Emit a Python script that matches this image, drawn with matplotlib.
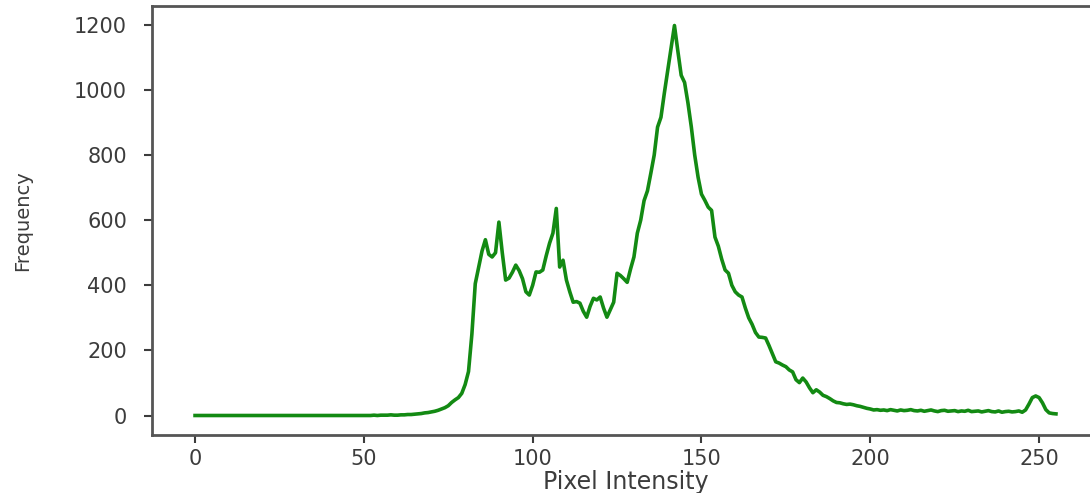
import matplotlib
matplotlib.use("Agg")
from matplotlib import pyplot as plt

# histogram of pixel intensities (0..255)
intensidades = list(range(256))
frecuencias = (
    [0] * 50
    + [0, 0, 0, 1, 0, 1, 1, 1, 2, 1]                                  # 50-59
    + [1, 2, 2, 3, 3, 4, 5, 6, 8, 9]                                  # 60-69
    + [11, 13, 16, 20, 24, 30, 40, 48, 55, 68]                        # 70-79
    + [95, 135, 250, 405, 455, 505, 540, 495, 487, 500]               # 80-89
    + [594, 500, 416, 422, 440, 462, 445, 420, 380, 370]              # 90-99
    + [400, 441, 440, 447, 490, 529, 560, 636, 456, 477]              # 100-109
    + [416, 380, 348, 350, 345, 320, 302, 335, 360, 355]              # 110-119
    + [364, 330, 302, 325, 348, 437, 430, 420, 409, 450]              # 120-129
    + [487, 560, 600, 660, 690, 744, 800, 886, 916, 990]              # 130-139
    + [1060, 1130, 1198, 1120, 1045, 1023, 960, 886, 800, 732]        # 140-149
    + [680, 661, 640, 630, 548, 520, 480, 447, 437, 400]              # 150-159
    + [380, 370, 364, 330, 300, 280, 255, 241, 240, 238]              # 160-169
    + [215, 190, 165, 161, 155, 150, 140, 134, 110, 101]              # 170-179
    + [115, 103, 85, 70, 79, 72, 62, 58, 52, 45]                      # 180-189
    + [40, 39, 36, 34, 35, 33, 30, 28, 25, 22]                        # 190-199
    + [20, 17, 18, 16, 17, 15, 18, 16, 14, 17]                        # 200-209
    + [15, 16, 18, 15, 14, 16, 13, 15, 17, 14]                        # 210-219
    + [12, 15, 16, 13, 14, 15, 12, 14, 13, 16]                        # 220-229
    + [12, 13, 14, 11, 13, 15, 12, 11, 14, 10]                        # 230-239
    + [12, 13, 11, 12, 14, 10, 17, 35, 55, 60]                        # 240-249
    + [55, 39, 18, 8, 6, 5]                                           # 250-255
)
assert len(frecuencias) == 256

gris = "#3c3c3c"
plt.rcParams["font.family"] = "DejaVu Sans"

fig = plt.figure(figsize=(10.9, 4.93), dpi=100)
ax = fig.add_axes([152 / 1090, 58 / 493, 947 / 1090, 429 / 493])

ax.plot(intensidades, frecuencias, color="#138a13", linewidth=2.6)

ax.set_yticks([0, 200, 400, 600, 800, 1000, 1200])
ax.set_xticks([0, 50, 100, 150, 200, 250])

for lado in ax.spines.values():
    lado.set_color("#555555")
    lado.set_linewidth(2)
ax.spines["right"].set_visible(False)

ax.tick_params(axis="both", colors=gris, length=6, width=1.5, labelsize=15)
ax.tick_params(axis="y", pad=12)
ax.tick_params(axis="x", pad=4)

ax.set_xlabel("Pixel Intensity", fontsize=17, color=gris, labelpad=1)
ax.set_ylabel("Frequency", fontsize=14, color=gris, labelpad=30,
              family=["Liberation Sans Narrow", "DejaVu Sans"])

fig.savefig("out.png", dpi=100)
